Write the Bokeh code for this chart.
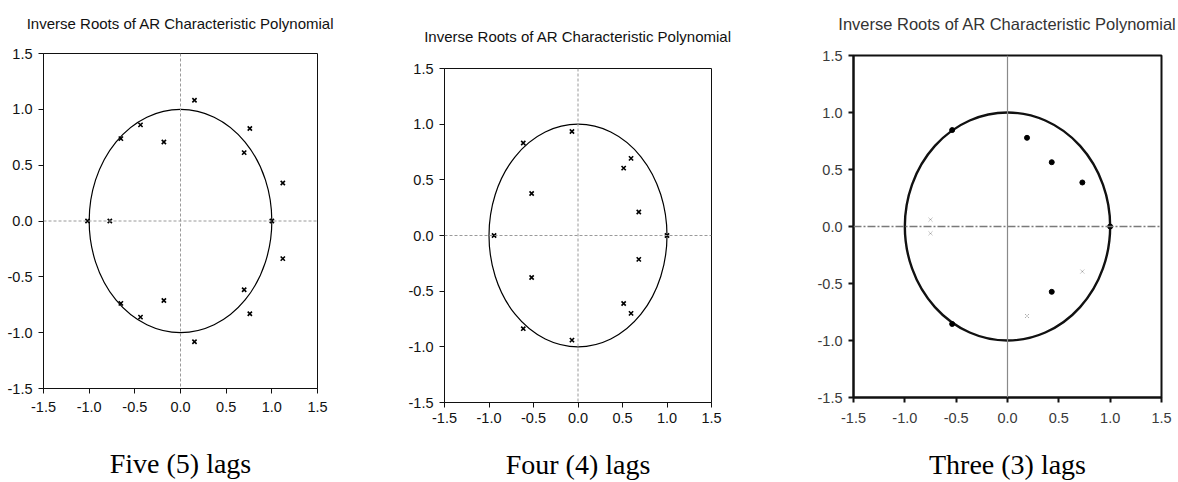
from bokeh.plotting import figure
from bokeh.layouts import row, column
from bokeh.models import Range1d, FixedTicker, NumeralTickFormatter, Span, Title, Spacer
from bokeh.embed import file_html
from bokeh.resources import INLINE

chart_title = "Inverse Roots of AR Characteristic Polynomial"
captions = ["Five (5) lags", "Four (4) lags", "Three (3) lags"]
tick_values = [-1.5, -1.0, -0.5, 0.0, 0.5, 1.0, 1.5]
unit_circle_radius = 1.0

# Five lags: inverse roots (real, imaginary)
lag5_re = [0.153, 0.153, -0.438, -0.438, -0.653, -0.653, -0.182, -0.182,
           0.759, 0.759, 0.697, 0.697, 1.120, 1.120, -1.018, -0.774, 1.000]
lag5_im = [1.081, -1.081, 0.861, -0.861, 0.738, -0.738, 0.708, -0.712,
           0.828, -0.831, 0.612, -0.616, 0.340, -0.337, 0.0, 0.0, 0.0]

# Four lags
lag4_re = [-0.068, -0.068, -0.615, -0.615, -0.521, -0.521, 0.596, 0.596,
           0.513, 0.513, 0.683, 0.683, -0.943, 1.000]
lag4_im = [0.934, -0.940, 0.831, -0.837, 0.377, -0.377, 0.693, -0.699,
           0.605, -0.611, 0.211, -0.214, 0.0, 0.0]

# Three lags (clearly printed roots)
lag3_re = [-0.539, -0.539, 0.190, 0.431, 0.431, 0.729, 1.000]
lag3_im = [0.846, -0.855, 0.778, 0.564, -0.573, 0.386, 0.0]
# Three lags (faintly printed roots)
lag3_faint_re = [0.190, 0.729, -0.750, -0.750]
lag3_faint_im = [-0.785, -0.395, 0.060, -0.060]

SANS = "'Liberation Sans', Arial, sans-serif"
SERIF = "'Liberation Serif', 'Times New Roman', serif"
NBSP = "\u00a0"


def gap(height):
    # an empty title used only as vertical space
    return Title(text=NBSP, text_font_size="1px", standoff=height,
                 text_color="white")


def make_panel(width, frame_w, frame_h, b_left, b_top, b_bottom, caption,
               title_size, top_gap, label_standoff, bottom_gap, heavy=False):
    p = figure(width=width, frame_width=frame_w, frame_height=frame_h,
               x_range=Range1d(-1.5, 1.5), y_range=Range1d(-1.5, 1.5),
               output_backend="svg", toolbar_location=None,
               min_border_left=b_left, min_border_top=b_top,
               min_border_bottom=b_bottom,
               min_border_right=width - b_left - frame_w,
               background_fill_color="white", border_fill_color="white")
    p.grid.visible = False
    p.outline_line_color = "#111111"
    p.outline_line_width = 2 if heavy else 1
    for ax in (p.xaxis[0], p.yaxis[0]):
        ax.ticker = FixedTicker(ticks=tick_values)
        ax.formatter = NumeralTickFormatter(format="0.0")
        ax.minor_tick_line_color = None
        ax.major_tick_in = 0
        ax.major_tick_out = 5
        ax.axis_line_color = "#111111"
        ax.axis_line_width = 2 if heavy else 1
        ax.major_tick_line_color = "#111111"
        ax.major_tick_line_width = 2 if heavy else 1
        ax.major_label_text_font = SANS
        ax.major_label_text_font_size = "14.5px"
        ax.major_label_text_color = "#3a3a3a" if heavy else "#111111"
        ax.major_label_standoff = 6
    p.xaxis[0].major_label_standoff = label_standoff
    p.add_layout(gap(top_gap), "above")
    p.add_layout(Title(text=chart_title, align="center", text_font=SANS,
                       text_font_size=title_size, text_font_style="normal",
                       text_color="#333333" if heavy else "#111111",
                       standoff=0), "above")
    p.add_layout(gap(bottom_gap), "below")
    p.add_layout(Title(text=caption, align="center", text_font=SERIF,
                       text_font_size="28px", text_font_style="normal",
                       text_color="black", standoff=0), "below")
    return p


p1 = make_panel(390, 274, 335, 43, 53, 94, captions[0], "15px", 19, 8, 28)
p2 = make_panel(400, 267, 334, 54, 53, 80, captions[1], "15px", 21, 5, 18)
p3 = make_panel(388, 308, 342, 63, 53, 85, captions[2], "16.5px", 20, 10, 18, heavy=True)

for p in (p1, p2):
    p.add_layout(Span(location=0, dimension="width", line_color="#9a9a9a",
                      line_dash="3 2", line_width=1))
    p.add_layout(Span(location=0, dimension="height", line_color="#9a9a9a",
                      line_dash="3 2", line_width=1))
    p.ellipse(x=0, y=0, width=2 * unit_circle_radius, height=2 * unit_circle_radius,
              fill_color=None, line_color="black", line_width=1.2)

p1.scatter(lag5_re, lag5_im, marker="x", size=6, line_color="black", line_width=1.6)
p2.scatter(lag4_re, lag4_im, marker="x", size=6, line_color="black", line_width=1.6)

p3.add_layout(Span(location=0, dimension="width", line_color="#7a7a7a",
                   line_dash="8 2 2 2", line_width=1.6))
p3.add_layout(Span(location=0, dimension="height", line_color="#8a8a8a",
                   line_width=1.2))
p3.ellipse(x=0, y=0, width=2 * unit_circle_radius, height=2 * unit_circle_radius,
           fill_color=None, line_color="#111111", line_width=2.4)
p3.scatter(lag3_re, lag3_im, marker="circle", size=5, fill_color="black",
           line_color="black")
p3.scatter(lag3_faint_re, lag3_faint_im, marker="x", size=5, line_color="#888888",
           line_width=1, line_dash="1 1")

layout = row(p1,
             column(Spacer(width=400, height=15), p2, spacing=0),
             column(Spacer(width=388, height=2), p3, spacing=0),
             spacing=0)
open("out.html", "w").write(file_html(layout, INLINE))
